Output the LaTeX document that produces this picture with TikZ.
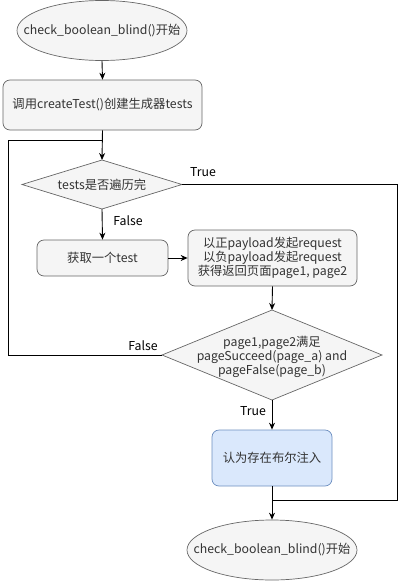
\documentclass[tikz,border=0pt]{standalone}
\usepackage{fontspec}
\setmainfont{Noto Sans CJK SC}
\usetikzlibrary{shapes.geometric,arrows.meta}
\definecolor{gfill}{HTML}{F5F5F5}
\definecolor{gline}{HTML}{666666}
\definecolor{tcol}{HTML}{333333}
\definecolor{bfill}{HTML}{DAE8FC}
\definecolor{bline}{HTML}{6C8EBF}
\tikzset{
  txt/.style={text=tcol,font=\fontsize{12.3}{14.2}\selectfont,align=center,inner sep=0pt},
  base/.style={draw=gline,fill=gfill,txt,line width=0.7pt},
  term/.style={base,ellipse,minimum width=170pt,minimum height=60pt},
  proc/.style={base,rounded corners=7pt,rectangle},
  lbl/.style={text=black,font=\fontsize{12.3}{15}\selectfont,inner sep=0pt},
  conn/.style={line width=0.9pt,-{Stealth[length=7pt,width=6pt]}},
  line/.style={line width=0.9pt}
}
\begin{document}
\begin{tikzpicture}[x=1pt,y=-1pt]
\useasboundingbox (0,0) rectangle (406,581);
\node[term] (start) at (102,30.5) {};
\node[txt] (startt) at (start) {check\_boolean\_blind()开始};
\node[proc,minimum width=199pt,minimum height=50pt] (create) at (102.5,105) {调用createTest()创建生成器tests};
\path[draw=gline,fill=gfill,line width=0.7pt] (22,184.5) -- (102,160) -- (182,184.5) -- (102,209) -- cycle;
\node[txt] (d1t) at (102,185) {tests是否遍历完};
\coordinate (d1top) at (102,160);
\coordinate (d1bot) at (102,209);
\coordinate (d1right) at (182,184.5);
\node[proc,minimum width=131pt,minimum height=36pt] (get) at (102.5,258) {获取一个test};
\node[proc,minimum width=169pt,minimum height=56pt] (req) at (272.5,258) {以正payload发起request\\以负payload发起request\\获得返回页面page1, page2};
\path[draw=gline,fill=gfill,line width=0.7pt] (162,355) -- (272,310) -- (382,355) -- (272,400) -- cycle;
\node[txt] (d2t) at (272,357) {page1,page2满足\\pageSucceed(page\_a) and\\pageFalse(page\_b)};
\coordinate (d2top) at (272,310);
\coordinate (d2bot) at (272,400);
\coordinate (d2left) at (162,355);
\node[proc,draw=bline,fill=bfill,minimum width=120pt,minimum height=56pt] (inj) at (272,458) {认为存在布尔注入};
\node[term] (end) at (272,550) {};
\node[txt] (endt) at (end) {check\_boolean\_blind()开始};
% connectors
\draw[conn] (start.south) -- (create.north);
\draw[conn] (create.south) -- (d1top);
\draw[conn] (d1bot) -- (get.north);
\node[lbl] (flab1) at (128,221) {False};
\draw[conn] (get.east) -- (req.west);
\draw[conn] (req.south) -- (d2top);
\draw[conn] (d2bot) -- (inj.north);
\node[lbl] (tlab2) at (253,411) {True};
\coordinate (merge) at (272,500);
\draw[conn] (inj.south) -- (end.north);
\draw[line] (d1right) -- (397,184.5) -- (397,500) -- (merge);
\node[lbl] (tlab) at (203,172) {True};
\draw[line] (d2left) -- (8,355) -- (8,140) -- (102,140);
\node[lbl] (flab) at (143,346) {False};
\end{tikzpicture}
\end{document}
